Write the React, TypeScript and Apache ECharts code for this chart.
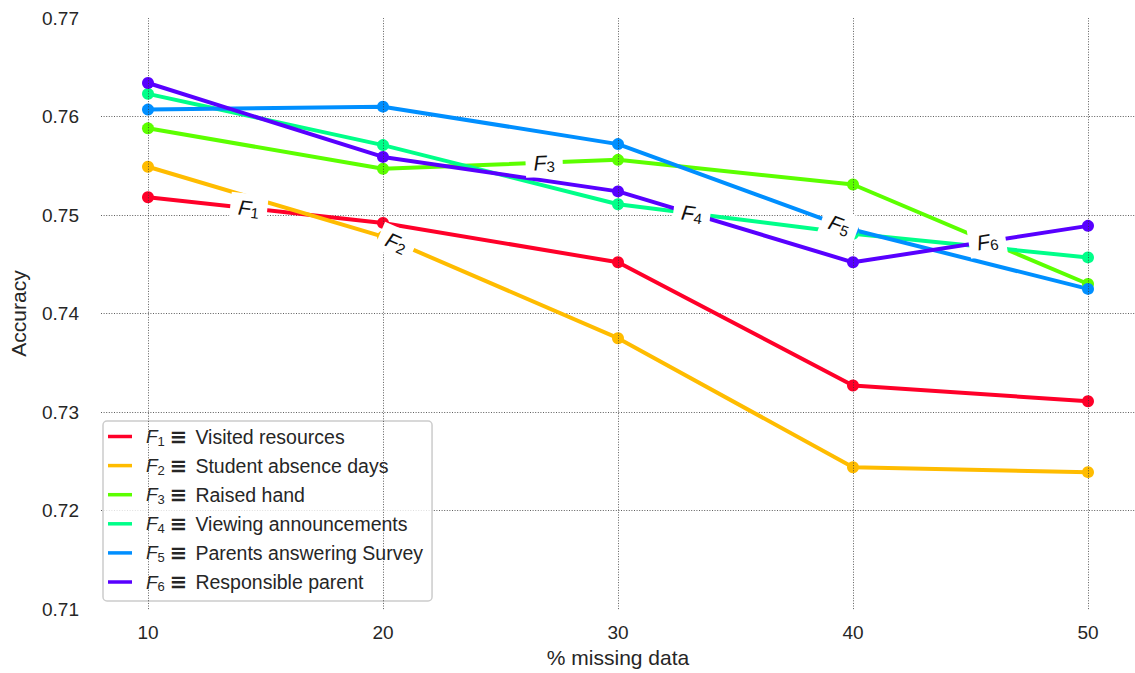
import React, { useEffect, useRef } from "react";
import * as echarts from "echarts";

const X_VALUES = [10, 20, 30, 40, 50];
const F1_VISITED = [0.7518, 0.7492, 0.7452, 0.7327, 0.7311];
const F2_ABSENCE = [0.7549, 0.7478, 0.7375, 0.7244, 0.7239];
const F3_RAISED = [0.7588, 0.7547, 0.7556, 0.7531, 0.743];
const F4_VIEWING = [0.7623, 0.7571, 0.7511, 0.7481, 0.7457];
const F5_SURVEY = [0.7607, 0.761, 0.7572, 0.7485, 0.7425];
const F6_PARENT = [0.7634, 0.7559, 0.7524, 0.7452, 0.7489];
const FEATURE_NAMES = [
  "Visited resources",
  "Student absence days",
  "Raised hand",
  "Viewing announcements",
  "Parents answering Survey",
  "Responsible parent",
];
const COLORS = ["#ff0029", "#ffbc00", "#5cff00", "#00ff89", "#008fff", "#5800ff"];
const Y_TICKS = [0.71, 0.72, 0.73, 0.74, 0.75, 0.76, 0.77];

const SERIES_VALUES = [F1_VISITED, F2_ABSENCE, F3_RAISED, F4_VIEWING, F5_SURVEY, F6_PARENT];

const X_MIN = 8;
const X_MAX = 52;
const FONT = "'Liberation Sans', Arial, Helvetica, sans-serif";
const TXT = "#262626";
const GRID_LINE = { color: "#333", width: 0.8, type: [1, 1.6] as number[] };

export default function App() {
  const ref = useRef<HTMLDivElement>(null);

  useEffect(() => {
    if (!ref.current) return;
    const chart = echarts.init(ref.current, null, { renderer: "svg" });
    const legendNames = FEATURE_NAMES.map((n, i) => `F${i + 1} ${n}`);

    const lineSeries = SERIES_VALUES.map((vals, i) => ({
      name: legendNames[i],
      type: "line",
      data: X_VALUES.map((x, j) => [x, vals[j]]),
      symbol: "circle",
      symbolSize: 12,
      itemStyle: { color: COLORS[i] },
      lineStyle: { color: COLORS[i], width: 4 },
      z: 3,
    }));

    const option: any = {
      animation: false,
      backgroundColor: "#ffffff",
      textStyle: { fontFamily: FONT },
      grid: { left: 100, right: -3, top: 18, bottom: 63, containLabel: false },
      xAxis: {
        type: "value",
        min: X_MIN,
        max: X_MAX,
        name: "% missing data",
        nameLocation: "middle",
        nameGap: 37,
        nameTextStyle: { fontSize: 21, color: TXT, fontFamily: FONT },
        axisLine: { show: false },
        axisTick: { show: false },
        splitLine: { show: false },
        axisLabel: {
          customValues: X_VALUES,
          fontSize: 19,
          color: TXT,
          margin: 14,
          fontFamily: FONT,
        },
      },
      yAxis: {
        type: "value",
        min: Y_TICKS[0],
        max: Y_TICKS[Y_TICKS.length - 1],
        interval: 0.01,
        name: "Accuracy",
        nameLocation: "middle",
        nameGap: 72,
        nameTextStyle: { fontSize: 21, color: TXT, fontFamily: FONT },
        axisLine: { show: false },
        axisTick: { show: false },
        splitLine: { show: true, showMinLine: false, showMaxLine: false, lineStyle: GRID_LINE },
        axisLabel: {
          formatter: (v: number) => v.toFixed(2),
          fontSize: 19,
          color: TXT,
          margin: 22,
          fontFamily: FONT,
        },
      },
      legend: {
        left: 103,
        top: 421,
        orient: "vertical",
        data: legendNames,
        icon: "rect",
        itemWidth: 24,
        itemHeight: 3.5,
        itemGap: 7.6,
        padding: [5, 9, 8, 5],
        backgroundColor: "rgba(255,255,255,0.8)",
        borderColor: "#cccccc",
        borderWidth: 1.5,
        borderRadius: 4,
        selectedMode: false,
        formatter: (name: string) => {
          const idx = legendNames.indexOf(name);
          return `{f|F}{s|${idx + 1}}{e|≡}{t|${FEATURE_NAMES[idx]}}`;
        },
        textStyle: {
          color: TXT,
          fontFamily: FONT,
          rich: {
            f: { fontStyle: "italic", fontSize: 19, lineHeight: 22, color: TXT, fontFamily: FONT, padding: [0, 0, 0, 9] },
            s: { fontSize: 13, lineHeight: 13, verticalAlign: "bottom", color: TXT, fontFamily: FONT },
            e: { fontSize: 21, lineHeight: 22, fontWeight: "bold", color: TXT, fontFamily: "'DejaVu Sans', sans-serif", padding: [0, 8, 0, 5] },
            t: { fontSize: 19.5, lineHeight: 22, color: TXT, fontFamily: FONT },
          },
        },
      },
      series: [
        {
          name: "grid-x",
          type: "line",
          data: [],
          silent: true,
          z: 1,
          markLine: {
            silent: true,
            symbol: "none",
            label: { show: false },
            lineStyle: GRID_LINE,
            data: X_VALUES.map((x) => ({ xAxis: x })),
          },
        },
        ...lineSeries,
      ],
    };

    chart.setOption(option);

    const n = SERIES_VALUES.length;
    const graphics = SERIES_VALUES.map((vals, i) => {
      const lx = X_MIN + ((X_MAX - X_MIN) * (i + 1)) / (n + 1);
      let k = 0;
      while (k < X_VALUES.length - 2 && lx > X_VALUES[k + 1]) k++;
      const t = (lx - X_VALUES[k]) / (X_VALUES[k + 1] - X_VALUES[k]);
      const ly = vals[k] + t * (vals[k + 1] - vals[k]);
      const p = chart.convertToPixel({ gridIndex: 0 }, [lx, ly]) as number[];
      const a = chart.convertToPixel({ gridIndex: 0 }, [X_VALUES[k], vals[k]]) as number[];
      const b = chart.convertToPixel({ gridIndex: 0 }, [X_VALUES[k + 1], vals[k + 1]]) as number[];
      const rot = Math.atan2(a[1] - b[1], b[0] - a[0]);
      return {
        type: "text",
        x: p[0],
        y: p[1],
        rotation: rot,
        z: 100,
        silent: true,
        style: {
          text: `{f|F}{s|${i + 1}}`,
          align: "center",
          verticalAlign: "middle",
          backgroundColor: "#ffffff",
          padding: [3, 8, 3, 8],
          rich: {
            f: { fontStyle: "italic", fontSize: 21, lineHeight: 23, fill: "#111", fontFamily: FONT },
            s: { fontSize: 15, lineHeight: 15, verticalAlign: "bottom", fill: "#111", fontFamily: FONT },
          },
        },
      };
    });
    chart.setOption({ graphic: graphics });

    return () => chart.dispose();
  }, []);

  return (
    <div
      ref={ref}
      style={{ position: "absolute", left: 0, top: 0, width: 1135, height: 673 }}
    />
  );
}
